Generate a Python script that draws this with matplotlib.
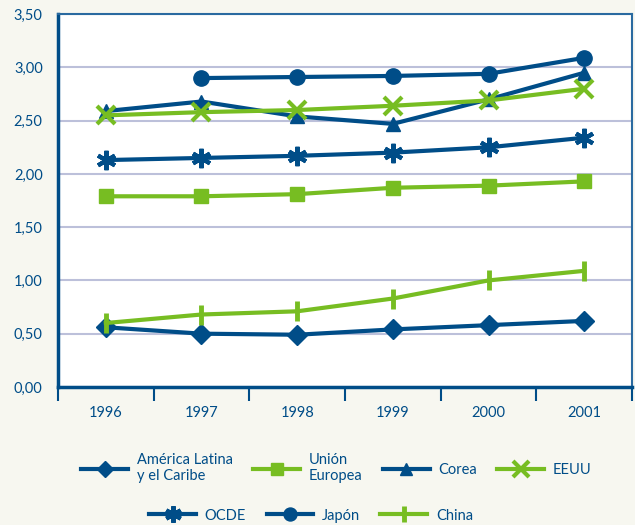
import matplotlib.pyplot as plt
from matplotlib.ticker import FixedLocator, FuncFormatter

plt.rcParams['font.family'] = ['Lato', 'DejaVu Sans']

# Datos por país / región (1996-2001)
years = ['1996', '1997', '1998', '1999', '2000', '2001']
america_latina = [0.56, 0.50, 0.49, 0.54, 0.58, 0.62]
union_europea = [1.79, 1.79, 1.81, 1.87, 1.89, 1.93]
corea = [2.59, 2.68, 2.54, 2.47, 2.70, 2.95]
eeuu = [2.55, 2.58, 2.60, 2.64, 2.69, 2.80]
ocde = [2.13, 2.15, 2.17, 2.20, 2.25, 2.34]
japon = [None, 2.90, 2.91, 2.92, 2.94, 3.09]
china = [0.60, 0.68, 0.71, 0.83, 1.00, 1.09]

azul = '#004d88'
verde = '#77bd22'
fondo = '#f7f7f0'

fig = plt.figure(figsize=(6.35, 5.25), dpi=100, facecolor=fondo)
ax = fig.add_axes([0.0913, 0.263, 0.904, 0.71])
ax.set_facecolor('white')

x = list(range(len(years)))

def serie(vals):
    xs = [i for i, v in zip(x, vals) if v is not None]
    ys = [v for v in vals if v is not None]
    return xs, ys

lw = 3
l1, = ax.plot(*serie(america_latina), color=azul, lw=lw, marker='D', ms=10, label='América Latina\ny el Caribe')
l2, = ax.plot(*serie(union_europea), color=verde, lw=lw, marker='s', ms=10, label='Unión\nEuropea')
l3, = ax.plot(*serie(corea), color=azul, lw=lw, marker='^', ms=10, label='Corea')
l4, = ax.plot(*serie(eeuu), color=verde, lw=lw, marker='x', ms=13, mew=3, label='EEUU')
l5, = ax.plot(*serie(ocde), color=azul, lw=lw, marker=(6, 2, 0), ms=14, mew=3, label='OCDE')
l6, = ax.plot(*serie(japon), color=azul, lw=lw, marker='o', ms=11, label='Japón')
l7, = ax.plot(*serie(china), color=verde, lw=lw, marker='|', ms=14, mew=3.5, label='China')

ax.set_xlim(-0.5, 5.5)
ax.set_ylim(0, 3.5)
ax.set_yticks([0, 0.5, 1.0, 1.5, 2.0, 2.5, 3.0, 3.5])
ax.yaxis.set_major_formatter(FuncFormatter(lambda v, p: f'{v:.2f}'.replace('.', ',')))
ax.yaxis.grid(True, color='#bcc0da', lw=1.5)
ax.set_axisbelow(True)

# ticks en los límites de cada año, etiquetas centradas
ax.xaxis.set_major_locator(FixedLocator([i - 0.5 for i in range(7)]))
ax.xaxis.set_minor_locator(FixedLocator(x))
ax.set_xticklabels([''] * 7)
ax.set_xticklabels(years, minor=True)
ax.tick_params(axis='x', which='major', length=10, width=1.5, color=azul, direction='out')
ax.tick_params(axis='x', which='minor', length=0, pad=14, labelsize=10.5, labelcolor=azul)
ax.tick_params(axis='y', length=0, pad=11, labelsize=10.5, labelcolor=azul)

for side in ['left', 'bottom']:
    ax.spines[side].set_color(azul)
    ax.spines[side].set_linewidth(2.5)
for side in ['top', 'right']:
    ax.spines[side].set_color('#2a6aa0')
    ax.spines[side].set_linewidth(1.5)

leg_kw = dict(frameon=False, prop={'size': 10.5}, handlelength=3.2, labelcolor=azul,
              columnspacing=1.4, handletextpad=0.6, markerscale=0.85)
fig.legend([l1, l2, l3, l4], [l.get_label() for l in [l1, l2, l3, l4]],
           ncol=4, loc='center', bbox_to_anchor=(0.53, 0.108), **leg_kw)
fig.legend([l5, l6, l7], [l.get_label() for l in [l5, l6, l7]],
           ncol=3, loc='center', bbox_to_anchor=(0.49, 0.018), **leg_kw)

plt.savefig('out.png', dpi=100, facecolor=fondo)
